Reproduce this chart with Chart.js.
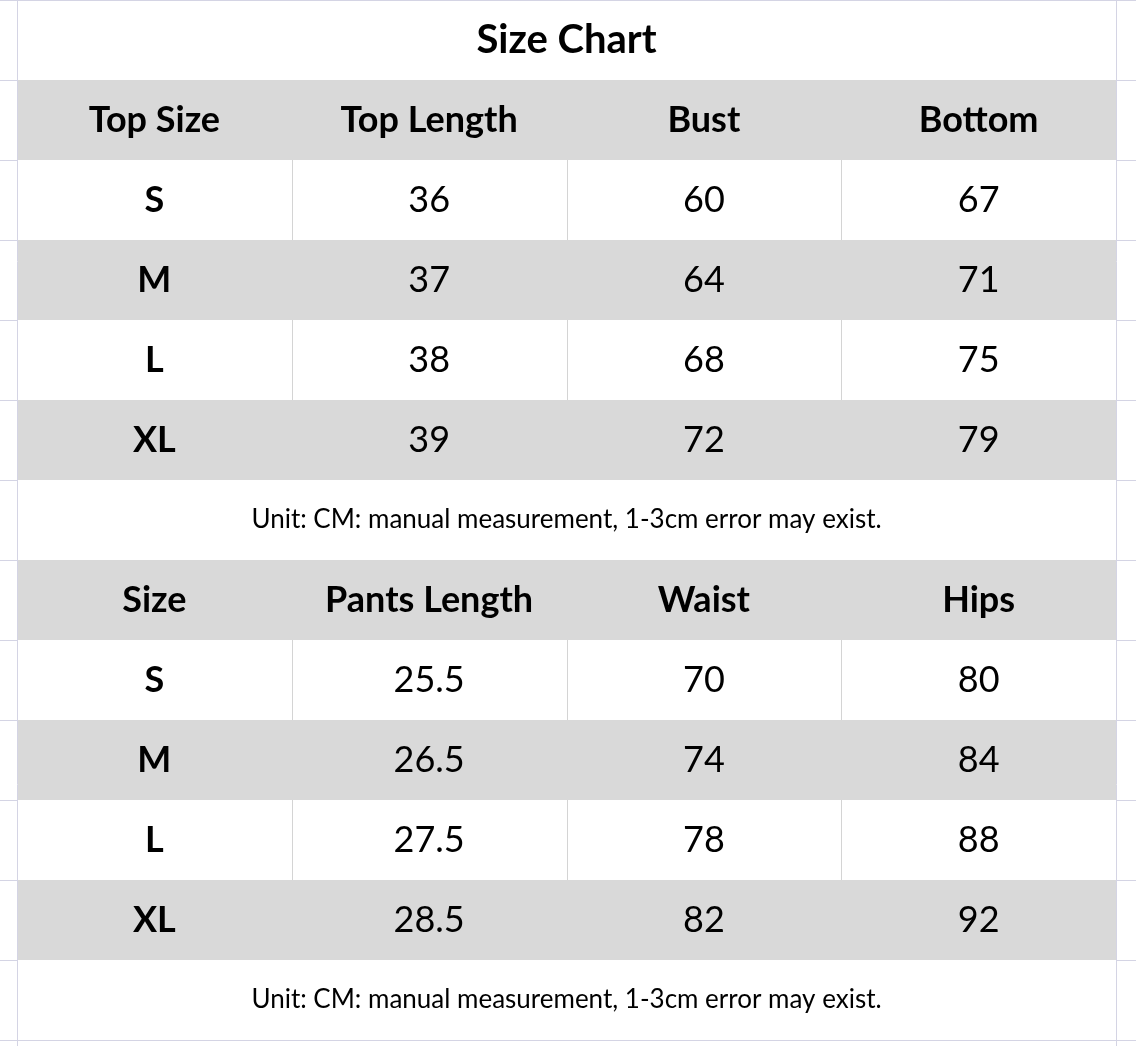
<!DOCTYPE html>
<html><head><meta charset="utf-8">
<script src="https://cdn.jsdelivr.net/npm/chart.js@4"></script>
<style>html,body{margin:0;padding:0;background:#fff}#c{display:block}</style>
</head><body>
<div style="width:1136px;height:1046px"><canvas id="c"></canvas></div>
<script>
const title = "Size Chart";
const note = "Unit: CM: manual measurement, 1-3cm error may exist.";
const topHeaders = ["Top Size","Top Length","Bust","Bottom"];
const topSizes = ["S","M","L","XL"];
const topLength = ["36","37","38","39"];
const bust = ["60","64","68","72"];
const bottom = ["67","71","75","79"];
const pantsHeaders = ["Size","Pants Length","Waist","Hips"];
const pantsSizes = ["S","M","L","XL"];
const pantsLength = ["25.5","26.5","27.5","28.5"];
const waist = ["70","74","78","82"];
const hips = ["80","84","88","92"];

// rows: 0 title,1 header,2-5 data,6 note,7 header,8-11 data,12 note
const rows = [];
rows.push({type:"title",cells:[title]});
rows.push({type:"head",cells:topHeaders});
topSizes.forEach((s,i)=>rows.push({type:"data",cells:[s,topLength[i],bust[i],bottom[i]]}));
rows.push({type:"note",cells:[note]});
rows.push({type:"head",cells:pantsHeaders});
pantsSizes.forEach((s,i)=>rows.push({type:"data",cells:[s,pantsLength[i],waist[i],hips[i]]}));
rows.push({type:"note",cells:[note]});
const grayRows = [1,3,5,7,9,11];

const points=[];
rows.forEach((r,ri)=>r.cells.forEach((c,ci)=>points.push({x:ci+0.5,y:ri+0.5})));

const tablePlugin = {
  id:"table",
  beforeDatasetsDraw(chart){
    const ctx=chart.ctx, xs=chart.scales.x, ys=chart.scales.y;
    const X=v=>xs.getPixelForValue(v), Y=v=>ys.getPixelForValue(v);
    const W=chart.width, H=chart.height;
    ctx.save();
    // spreadsheet gridlines
    ctx.strokeStyle="#d4d4e4"; ctx.lineWidth=1;
    for(let r=0;r<=13;r++){const y=Math.round(Y(r))+0.5;ctx.beginPath();ctx.moveTo(0,y);ctx.lineTo(W,y);ctx.stroke();}
    [0,4].forEach(c=>{const x=Math.round(X(c))+0.5;ctx.beginPath();ctx.moveTo(x,0);ctx.lineTo(x,H);ctx.stroke();});
    // table area white
    ctx.fillStyle="#fff";
    ctx.fillRect(X(0)+1,Y(0)+1,X(4)-X(0)-1,Y(13)-Y(0)-1);
    // gray bands
    ctx.fillStyle="#d9d9d9";
    grayRows.forEach(r=>ctx.fillRect(X(0)+1,Y(r),X(4)-X(0)-1,Y(r+1)-Y(r)));
    // inner borders in white data rows
    ctx.strokeStyle="#d4d4d4";
    rows.forEach((row,ri)=>{
      if(row.type!=="data"||grayRows.includes(ri))return;
      for(let c=1;c<4;c++){const x=Math.round(X(c))+0.5;ctx.beginPath();ctx.moveTo(x,Y(ri));ctx.lineTo(x,Y(ri+1));ctx.stroke();}
    });
    // text
    ctx.fillStyle="#000"; ctx.textAlign="center"; ctx.textBaseline="middle";
    const F="Lato, 'Open Sans', sans-serif";
    rows.forEach((row,ri)=>{
      const yc=Y(ri+0.5);
      if(row.type==="title"){ctx.font="bold 40px "+F;ctx.fillText(row.cells[0],X(2),yc);}
      else if(row.type==="note"){ctx.font="26px "+F;ctx.fillText(row.cells[0],X(2),yc);}
      else row.cells.forEach((t,ci)=>{
        ctx.font=(row.type==="head"||ci===0?"bold ":"")+"36px "+F;
        ctx.fillText(t,X(ci+0.5),yc);
      });
    });
    ctx.restore();
  }
};

new Chart(document.getElementById("c"),{
  type:"scatter",
  data:{datasets:[{data:points,pointRadius:0}]},
  options:{
    responsive:true,maintainAspectRatio:false,animation:false,
    layout:{padding:0},
    plugins:{legend:{display:false},tooltip:{enabled:false}},
    scales:{
      x:{type:"linear",display:false,min:-17/274.75,max:4+20/274.75},
      y:{type:"linear",display:false,reverse:true,min:0,max:1046/80}
    }
  },
  plugins:[tablePlugin]
});
</script>
</body></html>
